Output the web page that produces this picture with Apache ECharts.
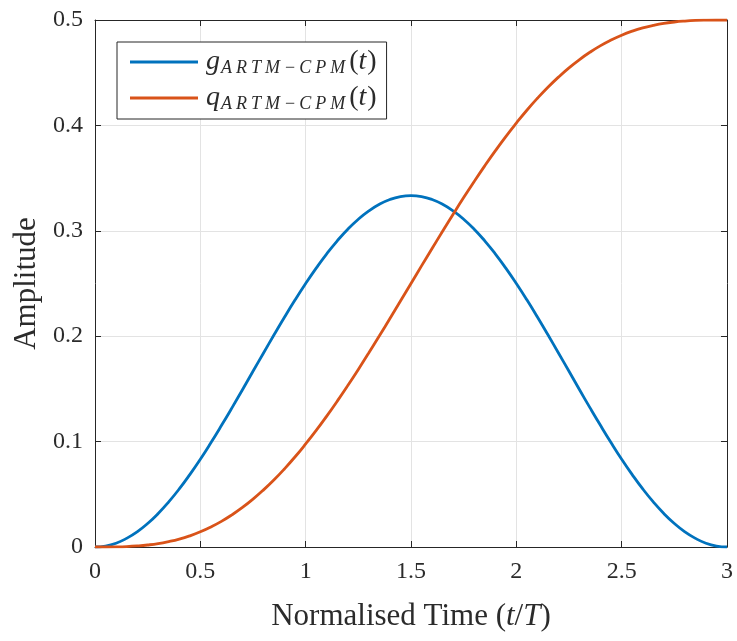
<!DOCTYPE html>
<html>
<head>
<meta charset="utf-8">
<script src="https://cdn.jsdelivr.net/npm/echarts@6/dist/echarts.min.js"></script>
<style>
  html, body { margin: 0; padding: 0; background: #fff; }
  #chart { width: 737px; height: 641px; }
</style>
</head>
<body>
<div id="chart"></div>
<script>
// Normalised time samples (t/T)
const timeSamples = [
  0, 0.05, 0.1, 0.15, 0.2, 0.25, 0.3, 0.35, 0.4, 0.45, 0.5, 0.55, 0.6, 0.65, 0.7, 0.75,
  0.8, 0.85, 0.9, 0.95, 1.0, 1.05, 1.1, 1.15, 1.2, 1.25, 1.3, 1.35, 1.4, 1.45, 1.5,
  1.55, 1.6, 1.65, 1.7, 1.75, 1.8, 1.85, 1.9, 1.95, 2.0, 2.05, 2.1, 2.15, 2.2, 2.25,
  2.3, 2.35, 2.4, 2.45, 2.5, 2.55, 2.6, 2.65, 2.7, 2.75, 2.8, 2.85, 2.9, 2.95, 3.0];

// Frequency pulse g(t)
const gValues = [
  0, 0.0009, 0.0036, 0.0082, 0.0144, 0.0223, 0.0318, 0.0428, 0.0551, 0.0687, 0.0833,
  0.0989, 0.1152, 0.1320, 0.1492, 0.1667, 0.1841, 0.2013, 0.2182, 0.2345, 0.25,
  0.2646, 0.2782, 0.2905, 0.3015, 0.3110, 0.3189, 0.3252, 0.3297, 0.3324, 0.3333,
  0.3324, 0.3297, 0.3252, 0.3189, 0.3110, 0.3015, 0.2905, 0.2782, 0.2646, 0.25,
  0.2345, 0.2182, 0.2013, 0.1841, 0.1667, 0.1492, 0.1320, 0.1152, 0.0989, 0.0833,
  0.0687, 0.0551, 0.0428, 0.0318, 0.0223, 0.0144, 0.0082, 0.0036, 0.0009, 0];

// Phase pulse q(t)
const qValues = [
  0, 0.0000, 0.0001, 0.0004, 0.0010, 0.0019, 0.0032, 0.0051, 0.0075, 0.0106, 0.0144,
  0.0190, 0.0243, 0.0305, 0.0375, 0.0454, 0.0542, 0.0638, 0.0743, 0.0856, 0.0978,
  0.1106, 0.1242, 0.1384, 0.1532, 0.1685, 0.1843, 0.2004, 0.2168, 0.2334, 0.25,
  0.2667, 0.2832, 0.2996, 0.3157, 0.3315, 0.3468, 0.3616, 0.3758, 0.3894, 0.4022,
  0.4144, 0.4257, 0.4362, 0.4458, 0.4546, 0.4625, 0.4695, 0.4757, 0.4810, 0.4856,
  0.4894, 0.4925, 0.4949, 0.4968, 0.4981, 0.4990, 0.4996, 0.4999, 0.5000, 0.5];

const serif = '"Liberation Serif", "DejaVu Serif", serif';
const axisColor = '#262626';
const textColor = '#2b2b2b';
const gridColor = '#e3e3e3';

const pair = arr => timeSamples.map((t, i) => [t, arr[i]]);

// Subscript "ARTM−CPM" built letter by letter so it can be spaced like math italics
const subscript = ['A', 'R', 'T', 'M', '\u2212', 'C', 'P', 'M']
  .map(ch => (ch === '\u2212' ? '{m|' + ch + '}' : '{s|' + ch + '}'))
  .join('');

const legendRich = {
  v: { fontFamily: serif, fontStyle: 'italic', fontSize: 28, color: textColor, padding: [0, 1, 0, 0] },
  s: { fontFamily: serif, fontStyle: 'italic', fontSize: 18, color: textColor, padding: [12, 4, 0, 0] },
  m: { fontFamily: serif, fontSize: 18, color: textColor, padding: [12, 4, 0, 1] },
  p: { fontFamily: serif, fontSize: 28, color: textColor }
};

const chart = echarts.init(document.getElementById('chart'), null, { renderer: 'canvas' });

chart.setOption({
  animation: false,
  backgroundColor: '#fff',
  grid: { left: 95, right: 10, top: 20, bottom: 94, containLabel: false },
  legend: {
    left: 117, top: 42,
    orient: 'vertical',
    backgroundColor: '#fff',
    borderColor: axisColor,
    borderWidth: 1,
    borderRadius: 0,
    padding: [6, 10, 6, 13],
    itemGap: 7,
    itemWidth: 68,
    itemHeight: 3,
    icon: 'rect',
    data: ['g', 'q'],
    formatter: name => '{v|' + name + '}' + subscript + '{p|(}{v|t}{p|)}',
    textStyle: { rich: legendRich, padding: [0, 0, 0, 3] }
  },
  xAxis: [{
    type: 'value', min: 0, max: 3, interval: 0.5,
    name: '{n|Normalised Time (}{i|t}{n|/}{i|T}{n|)}',
    nameLocation: 'middle', nameGap: 54,
    nameTextStyle: {
      rich: {
        n: { fontFamily: serif, fontSize: 31, color: textColor },
        i: { fontFamily: serif, fontSize: 31, fontStyle: 'italic', color: textColor }
      }
    },
    axisLine: { show: true, onZero: false, lineStyle: { color: axisColor, width: 1 } },
    axisTick: { show: true, inside: true, length: 6, lineStyle: { color: axisColor } },
    axisLabel: {
      margin: 13, fontFamily: serif, fontSize: 24, color: textColor,
      formatter: v => String(v)
    },
    splitLine: { show: true, lineStyle: { color: gridColor, width: 1 } }
  }, {
    type: 'value', min: 0, max: 3, interval: 0.5, position: 'top',
    axisLine: { show: true, onZero: false, lineStyle: { color: axisColor, width: 1 } },
    axisTick: { show: true, inside: true, length: 6, lineStyle: { color: axisColor } },
    axisLabel: { show: false },
    splitLine: { show: false }
  }],
  yAxis: [{
    type: 'value', min: 0, max: 0.5, interval: 0.1,
    name: 'Amplitude',
    nameLocation: 'middle', nameGap: 52, nameRotate: 90,
    nameTextStyle: { fontFamily: serif, fontSize: 31, color: textColor },
    axisLine: { show: true, onZero: false, lineStyle: { color: axisColor, width: 1 } },
    axisTick: { show: true, inside: true, length: 6, lineStyle: { color: axisColor } },
    axisLabel: {
      margin: 12, fontFamily: serif, fontSize: 24, color: textColor,
      formatter: v => (v === 0 ? '0' : v.toFixed(1))
    },
    splitLine: { show: true, lineStyle: { color: gridColor, width: 1 } }
  }, {
    type: 'value', min: 0, max: 0.5, interval: 0.1, position: 'right',
    axisLine: { show: true, onZero: false, lineStyle: { color: axisColor, width: 1 } },
    axisTick: { show: true, inside: true, length: 6, lineStyle: { color: axisColor } },
    axisLabel: { show: false },
    splitLine: { show: false }
  }],
  series: [{
    name: 'g', type: 'line', data: pair(gValues), smooth: true,
    showSymbol: false, symbol: 'none',
    itemStyle: { color: '#0072BD' },
    lineStyle: { color: '#0072BD', width: 2.8 }
  }, {
    name: 'q', type: 'line', data: pair(qValues), smooth: true,
    showSymbol: false, symbol: 'none',
    itemStyle: { color: '#D95319' },
    lineStyle: { color: '#D95319', width: 2.8 }
  }]
});
</script>
</body>
</html>
